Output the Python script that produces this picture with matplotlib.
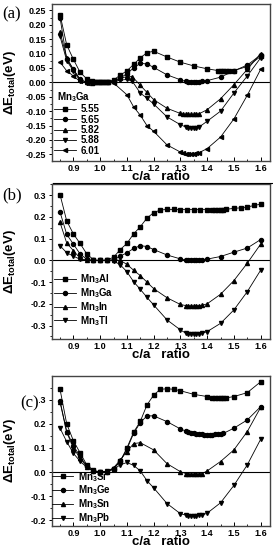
import matplotlib
matplotlib.use("Agg")
import matplotlib.pyplot as plt
from matplotlib.lines import Line2D
from matplotlib.ticker import MultipleLocator, FormatStrFormatter

plt.rcParams['font.family'] = ['Liberation Sans', 'DejaVu Sans']
plt.rcParams['font.weight'] = 'bold'
plt.rcParams['mathtext.fontset'] = 'custom'
plt.rcParams['mathtext.rm'] = 'Liberation Sans:bold'
plt.rcParams['mathtext.it'] = 'Liberation Sans:bold'
plt.rcParams['mathtext.bf'] = 'Liberation Sans:bold'
plt.rcParams['mathtext.default'] = 'bf'

# ---- panel (a): Mn3Ga at different lattice constants ----
a_title = 'Mn$_3$Ga'
a_labels = ['5.55', '5.65', '5.82', '5.88', '6.01']
a555_x = [0.85, 0.875, 0.9, 0.925, 0.95, 0.97, 0.98, 0.99, 1.0, 1.01, 1.02, 1.03, 1.05, 1.075, 1.1, 1.125,
          1.15, 1.175, 1.2, 1.25, 1.3, 1.35, 1.4, 1.44, 1.45, 1.46, 1.47, 1.48, 1.5, 1.55, 1.6]
a555_y = [0.235, 0.13, 0.08, 0.035, 0.012, 0.003, 0.001, 0.0, 0.0, 0.0, 0.001, 0.002, 0.008, 0.025, 0.04, 0.062,
          0.085, 0.103, 0.108, 0.088, 0.07, 0.057, 0.047, 0.041, 0.041, 0.041, 0.041, 0.041, 0.041, 0.055, 0.09]
a565_x = [0.85, 0.875, 0.9, 0.925, 0.95, 0.97, 0.98, 0.99, 1.0, 1.01, 1.02, 1.03, 1.05, 1.075, 1.1, 1.125,
          1.15, 1.175, 1.2, 1.25, 1.3, 1.32, 1.33, 1.34, 1.35, 1.36, 1.37, 1.38, 1.4, 1.45, 1.5, 1.55, 1.6]
a565_y = [0.225, 0.08, 0.045, 0.01, 0.0, 0.0, 0.0, 0.0, 0.0, 0.0, 0.0, 0.001, 0.005, 0.015, 0.03, 0.05,
          0.066, 0.064, 0.052, 0.026, 0.009, 0.003, 0.002, 0.002, 0.002, 0.002, 0.002, 0.003, 0.006, 0.018, 0.04, 0.06, 0.095]
a582_x = [0.85, 0.875, 0.9, 0.925, 0.95, 0.97, 1.0, 1.03, 1.05, 1.075, 1.1, 1.12, 1.15, 1.175, 1.2, 1.25,
          1.3, 1.31, 1.32, 1.33, 1.34, 1.35, 1.36, 1.37, 1.4, 1.45, 1.5, 1.55, 1.6]
a582_y = [0.175, 0.085, 0.045, 0.01, 0.0, -0.002, 0.0, 0.002, 0.006, 0.014, 0.02, 0.02, -0.01, -0.035, -0.06, -0.09,
          -0.108, -0.11, -0.111, -0.111, -0.111, -0.111, -0.11, -0.109, -0.095, -0.057, -0.008, 0.045, 0.1]
a588_x = [0.85, 0.875, 0.9, 0.925, 0.95, 0.97, 1.0, 1.03, 1.05, 1.075, 1.1, 1.12, 1.15, 1.175, 1.2, 1.25,
          1.3, 1.32, 1.33, 1.34, 1.35, 1.36, 1.37, 1.4, 1.45, 1.5, 1.55, 1.6]
a588_y = [0.16, 0.075, 0.04, 0.005, -0.003, -0.003, 0.0, 0.001, 0.003, 0.008, 0.01, 0.004, -0.037, -0.055, -0.075, -0.12,
          -0.147, -0.155, -0.157, -0.158, -0.158, -0.157, -0.155, -0.135, -0.1, -0.037, 0.022, 0.085]
a601_x = [0.85, 0.875, 0.9, 0.925, 0.95, 0.97, 1.0, 1.03, 1.05, 1.1, 1.125, 1.15, 1.175, 1.2, 1.25,
          1.3, 1.31, 1.32, 1.33, 1.34, 1.35, 1.36, 1.37, 1.4, 1.45, 1.5, 1.55, 1.6]
a601_y = [0.07, 0.04, 0.022, 0.003, -0.003, -0.002, 0.0, 0.0, -0.002, -0.043, -0.085, -0.114, -0.15, -0.17, -0.217,
          -0.242, -0.246, -0.247, -0.248, -0.248, -0.247, -0.246, -0.244, -0.23, -0.19, -0.127, -0.045, 0.045]

# ---- panel (b): Mn3Al, Mn3Ga, Mn3In, Mn3Tl ----
b_labels = ['Mn$_3$Al', 'Mn$_3$Ga', 'Mn$_3$In', 'Mn$_3$Tl']
bAl_x = [0.85, 0.875, 0.9, 0.925, 0.95, 0.975, 1.0, 1.025, 1.05, 1.075, 1.1, 1.125, 1.15, 1.175, 1.2, 1.225,
         1.25, 1.275, 1.3, 1.325, 1.35, 1.375, 1.4, 1.42, 1.43, 1.44, 1.45, 1.46, 1.47, 1.5, 1.525, 1.55, 1.575, 1.6]
bAl_y = [0.303, 0.182, 0.122, 0.078, 0.03, 0.003, 0.0, 0.003, 0.014, 0.05, 0.078, 0.122, 0.155, 0.195, 0.22, 0.232,
         0.235, 0.235, 0.234, 0.234, 0.234, 0.234, 0.234, 0.233, 0.233, 0.233, 0.233, 0.234, 0.235, 0.24, 0.242, 0.246, 0.253, 0.259]
b_x = [0.85, 0.875, 0.9, 0.925, 0.95, 0.975, 1.0, 1.025, 1.05, 1.075, 1.1, 1.125, 1.15, 1.175, 1.2, 1.25,
       1.3, 1.32, 1.33, 1.34, 1.35, 1.36, 1.37, 1.38, 1.4, 1.45, 1.5, 1.55, 1.6]
bGa_y = [0.223, 0.12, 0.075, 0.03, 0.005, 0.0, 0.0, 0.0, 0.002, 0.02, 0.035, 0.055, 0.068, 0.064, 0.05, 0.025,
         0.007, 0.002, 0.001, 0.001, 0.001, 0.001, 0.001, 0.002, 0.006, 0.018, 0.038, 0.057, 0.096]
bIn_y = [0.175, 0.08, 0.045, 0.01, 0.0, 0.0, 0.0, 0.0, 0.003, 0.0, -0.018, -0.045, -0.07, -0.1, -0.13, -0.172,
         -0.203, -0.208, -0.209, -0.21, -0.21, -0.209, -0.208, -0.207, -0.2, -0.156, -0.093, -0.013, 0.075]
bTl_y = [0.068, 0.035, 0.02, 0.005, 0.0, 0.0, 0.0, 0.0, -0.002, -0.02, -0.052, -0.098, -0.133, -0.17, -0.205, -0.274,
         -0.32, -0.335, -0.338, -0.34, -0.34, -0.34, -0.338, -0.336, -0.328, -0.29, -0.228, -0.144, -0.045]

# ---- panel (c): Mn3Si, Mn3Ge, Mn3Sn, Mn3Pb ----
c_labels = ['Mn$_3$Si', 'Mn$_3$Ge', 'Mn$_3$Sn', 'Mn$_3$Pb']
cSi_x = [0.85, 0.875, 0.9, 0.925, 0.95, 0.975, 1.0, 1.025, 1.05, 1.075, 1.1, 1.125, 1.15, 1.175, 1.2, 1.225,
         1.25, 1.275, 1.3, 1.35, 1.4, 1.42, 1.43, 1.44, 1.45, 1.46, 1.47, 1.5, 1.55, 1.6]
cSi_y = [0.343, 0.2, 0.13, 0.08, 0.03, 0.008, 0.0, 0.002, 0.015, 0.045, 0.1, 0.165, 0.21, 0.278, 0.319, 0.343,
         0.345, 0.343, 0.337, 0.322, 0.313, 0.306, 0.305, 0.305, 0.305, 0.306, 0.307, 0.313, 0.329, 0.374]
cGe_x = [0.85, 0.875, 0.9, 0.925, 0.95, 0.975, 1.0, 1.025, 1.05, 1.075, 1.1, 1.125, 1.15, 1.175, 1.2, 1.25,
         1.3, 1.32, 1.33, 1.34, 1.35, 1.36, 1.37, 1.38, 1.39, 1.4, 1.41, 1.42, 1.43, 1.44, 1.45, 1.46, 1.5, 1.55, 1.6]
cGe_y = [0.295, 0.168, 0.11, 0.065, 0.025, 0.005, 0.0, 0.002, 0.012, 0.045, 0.095, 0.16, 0.205, 0.233, 0.233, 0.209,
         0.179, 0.17, 0.166, 0.163, 0.161, 0.159, 0.157, 0.156, 0.155, 0.155, 0.155, 0.155, 0.156, 0.157, 0.158, 0.16,
         0.182, 0.216, 0.271]
cSn_x = [0.85, 0.875, 0.9, 0.925, 0.95, 0.975, 1.0, 1.025, 1.05, 1.075, 1.1, 1.125, 1.15, 1.2, 1.25,
         1.3, 1.32, 1.33, 1.34, 1.35, 1.36, 1.37, 1.38, 1.4, 1.45, 1.5, 1.55, 1.6]
cSn_y = [0.29, 0.165, 0.1, 0.058, 0.022, 0.004, 0.0, 0.003, 0.018, 0.05, 0.085, 0.118, 0.122, 0.092, 0.035,
         0.002, -0.006, -0.008, -0.009, -0.009, -0.009, -0.008, -0.007, 0.005, 0.044, 0.092, 0.168, 0.268]
cPb_x = [0.85, 0.875, 0.9, 0.925, 0.95, 0.975, 1.0, 1.025, 1.05, 1.075, 1.1, 1.125, 1.15, 1.175, 1.2, 1.25,
         1.3, 1.32, 1.33, 1.34, 1.35, 1.36, 1.37, 1.38, 1.4, 1.45, 1.5, 1.55, 1.6]
cPb_y = [0.182, 0.126, 0.078, 0.045, 0.02, 0.004, 0.0, 0.004, 0.012, 0.03, 0.04, 0.028, 0.005, -0.035, -0.065, -0.13,
         -0.172, -0.178, -0.18, -0.181, -0.181, -0.18, -0.179, -0.178, -0.17, -0.127, -0.055, 0.03, 0.136]

markers = ['s', 'o', '^', 'v', '<']
TICK_FS = 6.5
LABEL_FS = 9.5


def style_axes(ax, ylim, ymajor, yfmt):
    ax.set_xlim(0.82, 1.635)
    ax.set_ylim(*ylim)
    ax.axhline(0, color='k', lw=0.8, zorder=1)
    ax.xaxis.set_major_locator(MultipleLocator(0.1))
    ax.xaxis.set_minor_locator(MultipleLocator(0.05))
    ax.yaxis.set_major_locator(MultipleLocator(ymajor))
    ax.yaxis.set_minor_locator(MultipleLocator(ymajor / 2))
    ax.xaxis.set_major_formatter(FormatStrFormatter('%.1f'))
    ax.yaxis.set_major_formatter(FormatStrFormatter(yfmt))
    ax.tick_params(axis='x', direction='in', length=3, width=0.7, labelsize=TICK_FS, pad=2)
    ax.tick_params(axis='x', which='minor', direction='in', length=1.5, width=0.6)
    ax.tick_params(axis='y', direction='out', length=2.5, width=0.7, labelsize=TICK_FS, pad=1.5)
    ax.tick_params(axis='y', which='minor', direction='out', length=1.3, width=0.6)
    for sp in ax.spines.values():
        sp.set_color('#444444')
        sp.set_linewidth(1.0)
    ax.set_xlabel('c/a   ratio', fontsize=LABEL_FS, fontweight='bold', labelpad=-1)
    ax.set_ylabel(r'$\Delta$E$_{total}$(eV)', fontsize=LABEL_FS, fontweight='bold')
    ax.yaxis.set_label_coords(-0.155, 0.5)


def draw(ax, xs, ys, labels):
    for i, (x, y, lab) in enumerate(zip(xs, ys, labels)):
        ax.plot(x, y, color='k', lw=0.6, marker=markers[i], ms=2.9, mec='k', mfc='k', label=lab, zorder=3)


fig = plt.figure(figsize=(2.73, 5.5), dpi=100)
L, W = 52 / 273, 218 / 273
ax_a = fig.add_axes([L, 1 - 161 / 550, W, 157 / 550])
ax_b = fig.add_axes([L, 1 - 339 / 550, W, 155 / 550])
ax_c = fig.add_axes([L, 1 - 526 / 550, W, 150 / 550])

draw(ax_a, [a555_x, a565_x, a582_x, a588_x, a601_x], [a555_y, a565_y, a582_y, a588_y, a601_y], a_labels)
style_axes(ax_a, (-0.273, 0.272), 0.05, '%.2f')
ax_a.text(0.023, 0.408, a_title, transform=ax_a.transAxes, fontsize=7, fontweight='bold', va='center')
ax_a.legend(loc='upper left', bbox_to_anchor=(0.01, 0.36), frameon=False, fontsize=7,
            handlelength=2.2, handletextpad=0.5, labelspacing=0.03, borderpad=0, borderaxespad=0)

draw(ax_b, [bAl_x, b_x, b_x, b_x], [bAl_y, bGa_y, bIn_y, bTl_y], b_labels)
style_axes(ax_b, (-0.362, 0.352), 0.1, '%.1f')
ax_b.legend(loc='upper left', bbox_to_anchor=(0.01, 0.43), frameon=False, fontsize=7,
            handlelength=2.2, handletextpad=0.5, labelspacing=0.0, borderpad=0, borderaxespad=0)

draw(ax_c, [cSi_x, cGe_x, cSn_x, cPb_x], [cSi_y, cGe_y, cSn_y, cPb_y], c_labels)
style_axes(ax_c, (-0.223, 0.398), 0.1, '%.1f')
ax_c.legend(loc='upper left', bbox_to_anchor=(0.0, 0.375), frameon=False, fontsize=7,
            handlelength=2.2, handletextpad=0.5, labelspacing=0.0, borderpad=0, borderaxespad=0)

# panel letters
serif = ['Liberation Serif', 'DejaVu Serif']
fig.text(2 / 273, 1 - 14 / 550, '(a)', family=serif, fontsize=12, fontweight='normal', va='center')
fig.text(2 / 273, 1 - 195 / 550, '(b)', family=serif, fontsize=12, fontweight='normal', va='center')
fig.text(20 / 273, 1 - 403 / 550, '(c)', family=serif, fontsize=12, fontweight='normal', va='center',
         bbox=dict(facecolor='white', edgecolor='none', pad=0))

# separator rule under panel (a)
fig.add_artist(Line2D([53 / 273, 1.0], [1 - 183 / 550, 1 - 183 / 550], color='k', lw=0.8))

fig.savefig('out.png', dpi=100)
